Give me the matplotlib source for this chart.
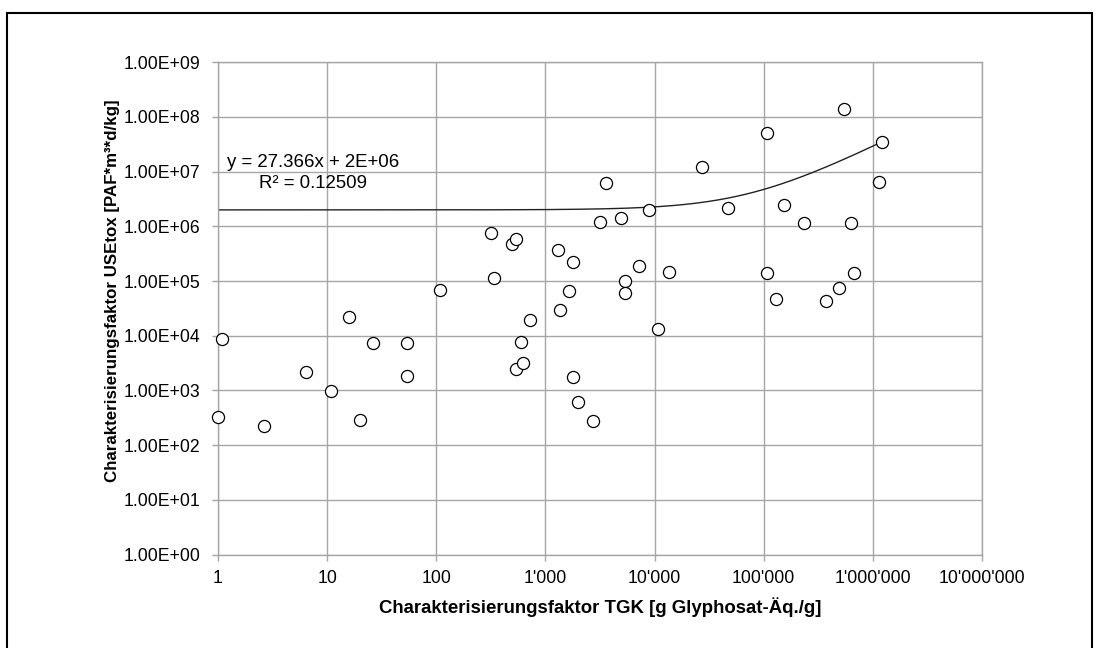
import matplotlib
matplotlib.use("Agg")
import matplotlib.pyplot as plt
from matplotlib.patches import Rectangle
from matplotlib.ticker import FixedLocator, FuncFormatter, NullLocator
import numpy as np

# Charakterisierungsfaktoren TGK (x) und USEtox (y) pro Wirkstoff
tgk = [1.0, 1.09, 2.64, 6.4, 10.8, 16, 20, 26.4, 54, 54,
       108, 318, 336, 492, 539, 539, 598, 621, 719, 1316,
       1355, 1660, 1783, 1795, 2009, 2700, 3170, 3575, 4905, 5410,
       5410, 7175, 8980, 1.07e4, 1.35e4, 2.71e4, 4.7e4, 1.08e5, 1.08e5, 1.3e5,
       1.55e5, 2.32e5, 3.72e5, 4.85e5, 5.43e5, 6.34e5, 6.76e5, 1.14e6, 1.21e6]
usetox = [322, 8.6e3, 223, 2.2e3, 988, 2.22e4, 288, 7.45e3, 7.26e3, 1.83e3,
          6.84e4, 7.45e5, 1.15e5, 4.74e5, 5.86e5, 2.5e3, 7.77e3, 3.13e3, 1.94e4, 3.69e5,
          2.9e4, 6.48e4, 2.2e5, 1.74e3, 622, 272, 1.2e6, 6.19e6, 1.4e6, 1.0e5,
          6.04e4, 1.86e5, 2.01e6, 1.33e4, 1.48e5, 1.2e7, 2.13e6, 5.08e7, 1.42e5, 4.69e4,
          2.48e6, 1.16e6, 4.31e4, 7.55e4, 1.4e8, 1.16e6, 1.38e5, 6.53e6, 3.52e7]

# lineare Trendlinie (Excel)
slope = 27.366
intercept = 2e6
r2 = 0.12509

x_ticks = [1, 10, 100, 1e3, 1e4, 1e5, 1e6, 1e7]
y_ticks = [10.0 ** k for k in range(10)]

plt.rcParams["font.family"] = ["Liberation Sans", "DejaVu Sans"]

fig = plt.figure(figsize=(11, 6.48), dpi=100)
ax = fig.add_axes([0.19818, 0.14429, 0.69455, 0.75957])

grid_col = "#a6a6a6"

ax.scatter(tgk, usetox, s=76, facecolors="white", edgecolors="black",
           linewidths=0.9, zorder=3, clip_on=False)

xs = np.logspace(np.log10(min(tgk)), np.log10(max(tgk)), 300)
ax.plot(xs, slope * xs + intercept, color="#222222", lw=1.0, zorder=2)

ax.set_xscale("log")
ax.set_yscale("log")
ax.set_xlim(1, 1e7)
ax.set_ylim(1, 1e9)

ax.xaxis.set_major_locator(FixedLocator(x_ticks))
ax.yaxis.set_major_locator(FixedLocator(y_ticks))
ax.xaxis.set_minor_locator(NullLocator())
ax.yaxis.set_minor_locator(NullLocator())
ax.xaxis.set_major_formatter(FuncFormatter(lambda v, p: f"{int(round(v)):,}".replace(",", "'")))
ax.yaxis.set_major_formatter(FuncFormatter(lambda v, p: f"{v:.2E}"))

ax.grid(True, color=grid_col, lw=1.0)
ax.set_axisbelow(True)
for sp in ax.spines.values():
    sp.set_color(grid_col)
    sp.set_linewidth(1.0)
ax.tick_params(axis="both", which="major", length=4, width=1.0, color=grid_col,
               labelsize=12.7, labelcolor="black")
ax.tick_params(axis="y", pad=8.5)
ax.tick_params(axis="x", pad=7)

ax.set_xlabel("Charakterisierungsfaktor TGK [g Glyphosat-Äq./g]",
              fontsize=13.4, fontweight="bold")
ax.set_ylabel("Charakterisierungsfaktor USEtox [PAF*m³*d/kg]",
              fontsize=12.2, fontweight="bold")
ax.xaxis.set_label_coords(0.5, -0.086)
ax.yaxis.set_label_coords(-0.128, 0.535)

ax.text(0.0114, 0.7867, f"y = {slope}x + 2E+06", transform=ax.transAxes,
        fontsize=13.4, va="baseline", ha="left")
ax.text(0.054, 0.744, f"R² = {r2}", transform=ax.transAxes,
        fontsize=13.4, va="baseline", ha="left")

# Rahmen um die Grafik
fig.patches.append(Rectangle((7 / 1100, -5 / 648), 1085 / 1100, 640 / 648,
                             transform=fig.transFigure, fill=False,
                             edgecolor="black", lw=1.5, clip_on=False))

fig.savefig("out.png", dpi=100)
